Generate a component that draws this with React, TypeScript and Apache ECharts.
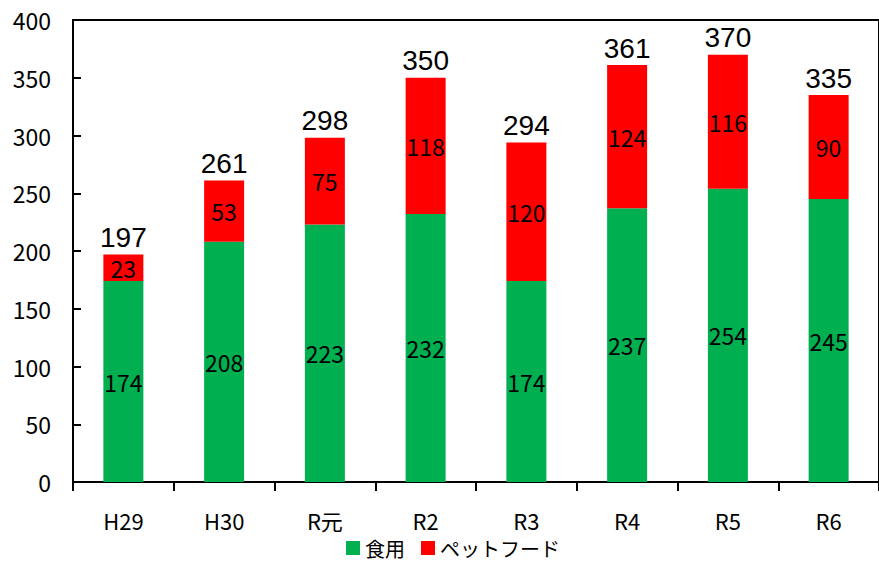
import React, { useEffect, useRef } from "react";
import * as echarts from "echarts";

const categories = ["H29", "H30", "R元", "R2", "R3", "R4", "R5", "R6"];
const foodValues = [174, 208, 223, 232, 174, 237, 254, 245];
const petValues = [23, 53, 75, 118, 120, 124, 116, 90];
const totalValues = [197, 261, 298, 350, 294, 361, 370, 335];
const yTicks = [0, 50, 100, 150, 200, 250, 300, 350, 400];

const FONT = "'Noto Sans CJK JP', 'Noto Sans', sans-serif";

export default function App() {
  const ref = useRef<HTMLDivElement>(null);
  useEffect(() => {
    if (!ref.current) return;
    const chart = echarts.init(ref.current, undefined, { renderer: "svg" });
    chart.setOption({
      animation: false,
      grid: {
        left: 73,
        right: -10,
        top: 20,
        bottom: 81,
        show: true,
        borderColor: "#000",
        borderWidth: 2,
      },
      legend: {
        left: 346,
        top: 538,
        padding: 0,
        itemWidth: 14,
        itemHeight: 14,
        itemGap: 16,
        icon: "rect",
        textStyle: { fontFamily: FONT, fontSize: 20, color: "#000", lineHeight: 20 },
        data: ["食用", "ペットフード"],
      },
      xAxis: {
        type: "category",
        data: categories,
        axisLine: { lineStyle: { color: "#000", width: 2 } },
        axisTick: { show: true, length: 9, lineStyle: { color: "#000", width: 2 } },
        axisLabel: { color: "#000", fontFamily: FONT, fontSize: 22, lineHeight: 21, margin: 27 },
      },
      yAxis: {
        type: "value",
        min: yTicks[0],
        max: yTicks[yTicks.length - 1],
        interval: 50,
        splitLine: { show: false },
        axisLine: { show: true, lineStyle: { color: "#000", width: 2 } },
        axisTick: { show: true, inside: true, length: 8, lineStyle: { color: "#000", width: 2 } },
        axisLabel: { color: "#000", fontFamily: FONT, fontSize: 23, margin: 22 },
      },
      series: [
        {
          name: "食用",
          type: "bar",
          stack: "total",
          barWidth: 40,
          data: foodValues,
          itemStyle: { color: "#00B050" },
          label: {
            show: true,
            position: "inside",
            color: "#000",
            fontFamily: FONT,
            fontSize: 23,
          },
        },
        {
          name: "ペットフード",
          type: "bar",
          stack: "total",
          barWidth: 40,
          data: petValues,
          itemStyle: { color: "#FF0000" },
          label: {
            show: true,
            position: "inside",
            color: "#000",
            fontFamily: FONT,
            fontSize: 23,
          },
        },
        {
          name: "合計",
          type: "bar",
          stack: "total",
          barWidth: 40,
          data: totalValues.map(() => 0),
          itemStyle: { color: "transparent" },
          label: {
            show: true,
            position: "top",
            distance: 3,
            color: "#000",
            fontFamily: "'Liberation Sans', Arial, sans-serif",
            fontSize: 28,
            formatter: (p: any) => String(totalValues[p.dataIndex]),
          },
        },
      ],
    });
    return () => chart.dispose();
  }, []);
  return <div ref={ref} style={{ width: 879, height: 563, position: "absolute", left: 0, top: 0 }} />;
}
